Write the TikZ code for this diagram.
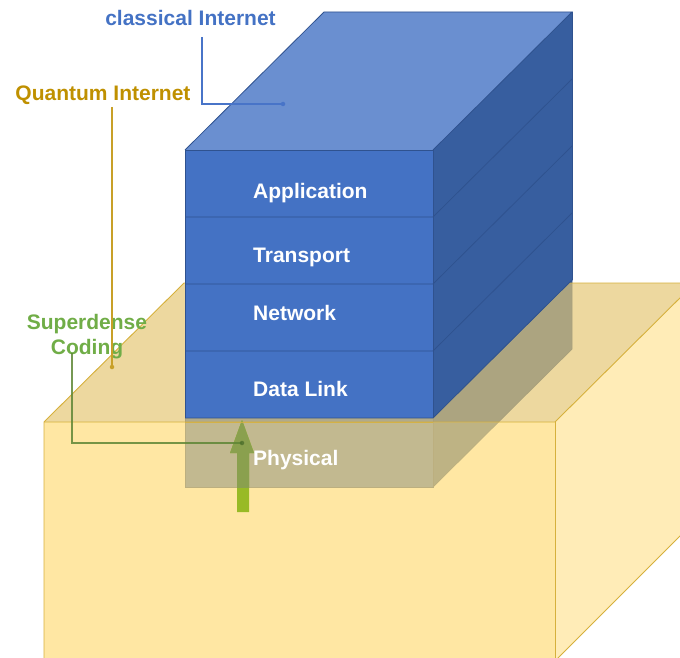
\documentclass[tikz,border=0pt]{standalone}
\usepackage{fontspec}
\setmainfont{Liberation Sans}
\definecolor{bfront}{HTML}{4472C4}
\definecolor{btop}{HTML}{6A8FD0}
\definecolor{bside}{HTML}{375E9F}
\definecolor{bline}{HTML}{2F528F}
\definecolor{ytop}{RGB}{228,198,114}
\definecolor{yfront}{RGB}{255,220,120}
\definecolor{yside}{RGB}{255,228,152}
\definecolor{yline}{RGB}{214,176,60}
\definecolor{qgold}{HTML}{BF9000}
\definecolor{sgreen}{HTML}{70AD47}
\definecolor{cblue}{HTML}{4472C4}
\definecolor{lblue}{RGB}{72,116,200}
\definecolor{lgold}{RGB}{200,160,40}
\definecolor{lgreen}{RGB}{110,158,62}
\definecolor{arrmuted}{RGB}{138,160,78}
\definecolor{arrbright}{RGB}{152,186,38}
\begin{document}
\begin{tikzpicture}[x=1pt,y=-1pt,
  lbl/.style={font=\fontsize{21}{25}\selectfont\bfseries, inner sep=0pt},
  layer/.style={lbl, text=white, anchor=base west},
  bedge/.style={draw=bline, line width=0.8pt},
  yedge/.style={draw=yline, line width=0.9pt},
  callout/.style={line width=1.2pt},
  dotmark/.style={circle, fill, inner sep=0pt, minimum size=4.5pt}]
\useasboundingbox (0,0) rectangle (680,658);
\clip (0,0) rectangle (680,658);
% ---- full blue stack (lower part seen through yellow)
\fill[bfront] (185,150) rectangle (433,487);
\fill[bside] (433,150) -- (572,12) -- (572,349) -- (433,487) -- cycle;
\fill[btop] (185,150) -- (324,12) -- (572,12) -- (433,150) -- cycle;
\draw[bedge] (185,150) rectangle (433,487);
\draw[bedge] (433,487) -- (572,349) -- (572,12);
\draw[bedge] (185,418) -- (433,418) -- (572,280);
% ---- yellow box (translucent)
\fill[ytop, opacity=.68] (44,422) -- (184,283) -- (695,283) -- (555,422) -- cycle;
\fill[yfront, opacity=.68] (44,422) rectangle (555,670);
\fill[yside, opacity=.7] (555,422) -- (695,283) -- (695,521) -- (555,661) -- cycle;
\draw[yedge] (44,670) -- (44,422) -- (184,283) -- (695,283);
\draw[yedge] (44,422) -- (555,422) -- (695,283);
\draw[yedge] (555,422) -- (555,670);
\draw[yedge] (555,661) -- (695,521);
% ---- blue stack above the yellow top plane
\fill[bfront] (185,150) rectangle (433,418);
\fill[bside] (433,150) -- (572,12) -- (572,280) -- (433,418) -- cycle;
\draw[bedge] (185,418) -- (185,150) -- (433,150) -- (433,418);
\draw[bedge] (185,150) -- (324,12) -- (572,12) -- (433,150);
\draw[bedge] (572,12) -- (572,280);
\foreach \yy in {217,284,351,418} {
  \draw[bedge] (185,\yy) -- (433,\yy) -- (572,\yy-138);
}
% ---- green arrow (muted inside the Physical layer, bright below it)
\fill[arrbright]
  (242,420) -- (254,453) -- (249,453) -- (249,512) -- (237,512) -- (237,453) -- (230,453) -- cycle;
\begin{scope}
  \clip (185,400) rectangle (433,487);
  \fill[arrmuted]
    (242,420) -- (254,453) -- (249,453) -- (249,512) -- (237,512) -- (237,453) -- (230,453) -- cycle;
\end{scope}
\draw[yline, line width=0.7pt, opacity=.8] (185,422) -- (433,422);
% ---- layer labels
\node[layer] (app) at (253,198) {Application};
\node[layer] (tra) at (253,262) {Transport};
\node[layer] (net) at (253,320) {Network};
\node[layer] (dl)  at (253,396) {Data Link};
\node[layer] (phy) at (253,465) {Physical};
% ---- callout labels
\node[lbl, text=cblue, anchor=base] (ci) at (190.5,26) {classical Internet};
\node[lbl, text=qgold, anchor=base] (qi) at (103,101) {Quantum Internet};
\node[lbl, text=sgreen, anchor=base] (sd) at (87,329) {Superdense};
\node[lbl, text=sgreen, anchor=base] (sd2) at (87,354) {Coding};
% ---- callout lines
\coordinate (ciA) at (202,37);
\coordinate (ciB) at (283,104);
\coordinate (qiA) at (112,107);
\coordinate (qiB) at (112,367);
\coordinate (sdA) at (72,353);
\coordinate (sdB) at (242,443);
\draw[lblue, callout] (ciA) |- (ciB);
\node[dotmark, lblue] (ciDot) at (ciB) {};
\draw[lgold, callout] (qiA) -- (qiB);
\node[dotmark, lgold] (qiDot) at (qiB) {};
\draw[lgreen!85!black, callout, opacity=.85] (sdA) |- (sdB);
\node[dotmark, lgreen!70!black, opacity=.8] (sdDot) at (sdB) {};
\end{tikzpicture}
\end{document}
